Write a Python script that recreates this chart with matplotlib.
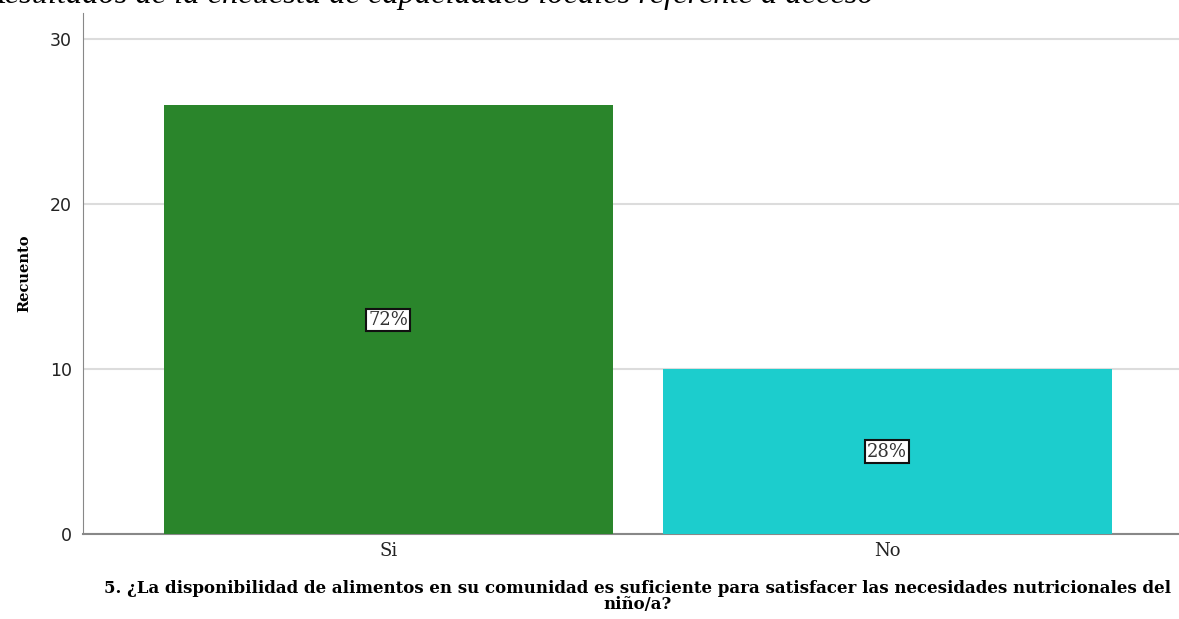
import matplotlib.pyplot as plt
import numpy as np

# data
categories = ["Si", "No"]
counts = [26, 10]
percents = ["72%", "28%"]
bar_colors = ["#2a852b", "#1ccdcd"]
yticks = [0, 10, 20, 30]

fig = plt.figure(figsize=(11.79, 6.19), dpi=100)
ax = fig.add_axes([0.0704, 0.1373, 0.9296, 0.8417])

x = np.arange(len(categories))
ax.bar(x, counts, width=0.9, color=bar_colors, zorder=3)

for xi, c, p in zip(x, counts, percents):
    ax.text(xi, c / 2, p, ha="center", va="center", fontsize=13,
            family="DejaVu Serif", color="#333333", zorder=4,
            bbox=dict(boxstyle="square,pad=0.12", facecolor="white",
                      edgecolor="#111111", linewidth=1.5))

ax.set_xlim(-0.612, 1.585)
ax.set_ylim(0, 31.6)
ax.set_yticks(yticks)
ax.set_xticks(x)
ax.set_xticklabels(categories, family="DejaVu Serif", fontsize=13, color="#222222")
ax.tick_params(axis="y", labelsize=12.5, length=0, pad=8, labelcolor="#222222")
ax.tick_params(axis="x", length=0, pad=6)
ax.yaxis.grid(True, color="#dcdcdc", linewidth=1.5, zorder=0)

for s in ["top", "right"]:
    ax.spines[s].set_visible(False)
ax.spines["left"].set_color("#888888")
ax.spines["bottom"].set_color("#888888")
ax.spines["bottom"].set_linewidth(1.5)

ax.set_ylabel("Recuento", family="DejaVu Serif", fontweight="bold",
              fontsize=10.5, labelpad=13)
ax.set_xlabel("5. ¿La disponibilidad de alimentos en su comunidad es suficiente para satisfacer las necesidades nutricionales del\nniño/a?",
              family="DejaVu Serif", fontweight="bold", fontsize=12,
              linespacing=0.95, labelpad=14)
ax.xaxis.label.set_x(0.506)

# title is cut off at the top edge of the image
fig.text(-0.013, 1 - 3.5 / 619, "Resultados de la encuesta de capacidades locales referente a acceso",
         family="Liberation Serif", style="italic", fontsize=23.3, va="baseline", ha="left")

fig.savefig("out.png", dpi=100)
